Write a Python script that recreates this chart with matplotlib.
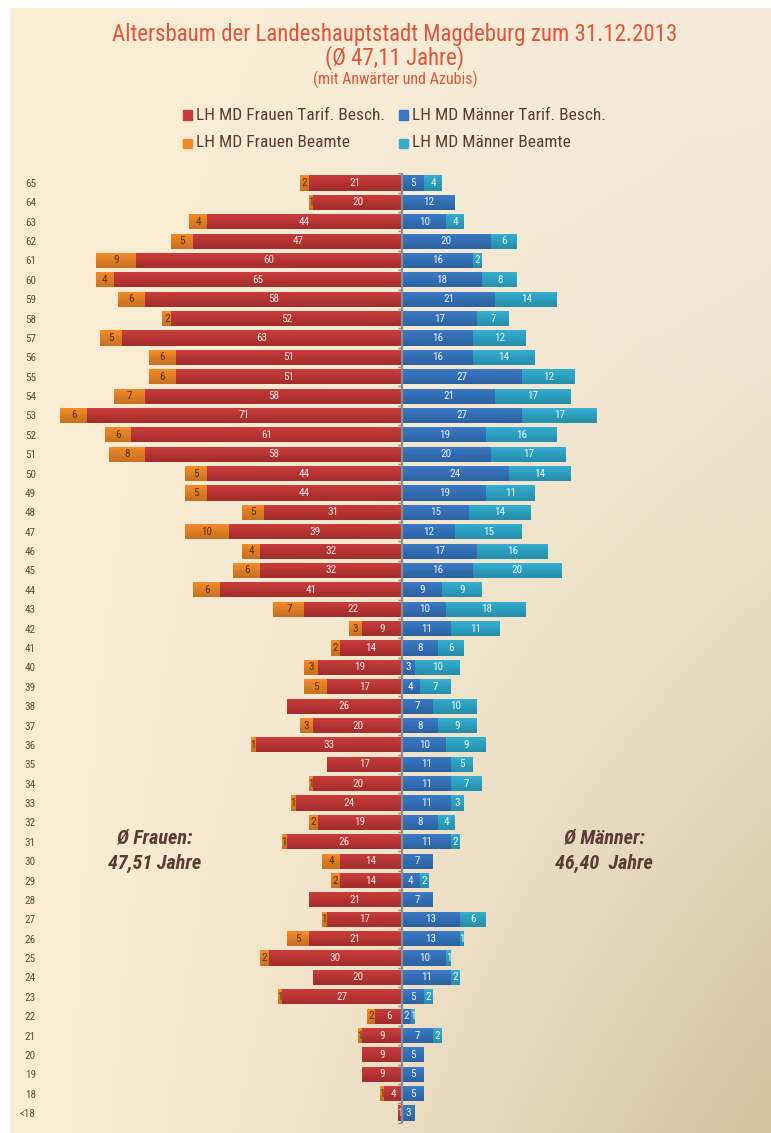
import numpy as np
import matplotlib.pyplot as plt
from matplotlib import font_manager
from matplotlib.patches import Rectangle

ages = ["65", "64", "63", "62", "61", "60", "59", "58", "57", "56", "55", "54",
        "53", "52", "51", "50", "49", "48", "47", "46", "45", "44", "43", "42",
        "41", "40", "39", "38", "37", "36", "35", "34", "33", "32", "31", "30",
        "29", "28", "27", "26", "25", "24", "23", "22", "21", "20", "19", "18", "<18"]
frauen_tarif = [21, 20, 44, 47, 60, 65, 58, 52, 63, 51, 51, 58,
                71, 61, 58, 44, 44, 31, 39, 32, 32, 41, 22, 9,
                14, 19, 17, 26, 20, 33, 17, 20, 24, 19, 26, 14,
                14, 21, 17, 21, 30, 20, 27, 6, 9, 9, 9, 4, 1]
frauen_beamte = [2, 1, 4, 5, 9, 4, 6, 2, 5, 6, 6, 7,
                 6, 6, 8, 5, 5, 5, 10, 4, 6, 6, 7, 3,
                 2, 3, 5, 0, 3, 1, 0, 1, 1, 2, 1, 4,
                 2, 0, 1, 5, 2, 0, 1, 2, 1, 0, 0, 1, 0]
maenner_tarif = [5, 12, 10, 20, 16, 18, 21, 17, 16, 16, 27, 21,
                 27, 19, 20, 24, 19, 15, 12, 17, 16, 9, 10, 11,
                 8, 3, 4, 7, 8, 10, 11, 11, 11, 8, 11, 7,
                 4, 7, 13, 13, 10, 11, 5, 2, 7, 5, 5, 5, 3]
maenner_beamte = [4, 0, 4, 6, 2, 8, 14, 7, 12, 14, 12, 17,
                  17, 16, 17, 14, 11, 14, 15, 16, 20, 9, 18, 11,
                  6, 10, 7, 10, 9, 9, 5, 7, 3, 4, 2, 0,
                  2, 0, 6, 1, 1, 2, 2, 1, 2, 0, 0, 0, 0]
series_names = ["LH MD Frauen Tarif. Besch.", "LH MD Frauen Beamte",
                "LH MD Männer Tarif. Besch.", "LH MD Männer Beamte"]

# pick a narrow font if one is installed
installed = {f.name for f in font_manager.fontManager.ttflist}
narrow = next((n for n in ["Ubuntu Condensed", "Liberation Sans Narrow", "DejaVu Sans Condensed",
                           "Roboto Condensed", "Open Sans Condensed", "Noto Sans"]
               if n in installed), "DejaVu Sans")
plt.rcParams["font.family"] = [narrow, "DejaVu Sans"]

RED, ORANGE, BLUE, CYAN = "#C73B3B", "#F08A28", "#3A78C4", "#33ACCE"
BROWN = "#5B3B33"
W, H = 771, 1133

fig = plt.figure(figsize=(W / 100, H / 100), dpi=100)

# background gradient (cream -> tan towards bottom right)
bg = fig.add_axes([10 / W, 0, 1 - 10 / W, 1 - 8 / H])
u = np.linspace(0, 1, 300)[None, :]
v = np.linspace(0, 1, 440)[:, None]
tl = np.array([251, 237, 211]) / 255
tr = np.array([243, 234, 216]) / 255
br = np.array([212, 194, 157]) / 255
base = tl * (1 - u[..., None]) + tr * u[..., None]
k = ((u * v) ** 1.6)[..., None]
img = base * (1 - k) + br * k
bg.imshow(np.clip(img, 0, 1), aspect="auto", extent=[0, 1, 0, 1], origin="upper")
bg.axis("off")

ax = fig.add_axes([47 / W, 1 - 1122.7 / H, 710 / W, (1122.7 - 173.3) / H])
ax.patch.set_alpha(0)
y = np.arange(len(ages))
ft = np.array(frauen_tarif)
fb = np.array(frauen_beamte)
mt = np.array(maenner_tarif)
mb = np.array(maenner_beamte)

hgt = 0.78
ax.barh(y, -ft, height=hgt, color=RED, zorder=2)
ax.barh(y, -fb, left=-ft, height=hgt, color=ORANGE, zorder=2)
ax.barh(y, mt, height=hgt, color=BLUE, zorder=2)
ax.barh(y, mb, left=mt, height=hgt, color=CYAN, zorder=2)

# soft darkening towards the bottom of each bar
steps = 8
for s in range(1, steps):
    frac = 1 - s / steps
    hh = hgt * frac
    yc = y + hgt / 2 - hh / 2
    ax.barh(yc, -(ft + fb), height=hh, color="black", alpha=0.022, zorder=3, lw=0)
    ax.barh(yc, mt + mb, height=hh, color="black", alpha=0.022, zorder=3, lw=0)

for i in range(len(ages)):
    if ft[i]:
        ax.text(-ft[i] / 2, i, str(ft[i]), ha="center", va="center", fontsize=8,
                color="#F4E6E6", zorder=4)
    if fb[i]:
        ax.text(-ft[i] - fb[i] / 2, i, str(fb[i]), ha="center", va="center", fontsize=8,
                color="#5A3018", zorder=4)
    if mt[i]:
        ax.text(mt[i] / 2, i, str(mt[i]), ha="center", va="center", fontsize=8,
                color="#EAF0FA", zorder=4)
    if mb[i]:
        ax.text(mt[i] + mb[i] / 2, i, str(mb[i]), ha="center", va="center", fontsize=8,
                color="#EAF7FB", zorder=4)

ax.axvline(0, color="#8C8C8C", lw=1.6, zorder=5)
ax.plot(np.full(len(ages) + 1, -0.35), np.arange(len(ages) + 1) - 0.5, ls="none",
        marker="_", ms=3, color="#8C8C8C", zorder=5)

ax.set_xlim(-80, 80)
ax.set_ylim(len(ages) - 0.5, -0.5)
ax.set_xticks([])
ax.set_yticks(y)
ax.set_yticklabels(ages, fontsize=8, color="#6B4A3A")
ax.tick_params(axis="y", length=0, pad=8)
for s in ax.spines.values():
    s.set_visible(False)

# titles
cx = 395 / W
fig.text(cx, 1 - 35 / H, "Altersbaum der Landeshauptstadt Magdeburg zum 31.12.2013",
         ha="center", va="center", fontsize=16.5, color="#E2553C")
fig.text(cx, 1 - 58 / H, "(Ø 47,11 Jahre)", ha="center", va="center", fontsize=16.5, color="#E2553C")
fig.text(cx, 1 - 79 / H, "(mit Anwärter und Azubis)", ha="center", va="center",
         fontsize=11.5, color="#E2553C")

# legend
leg = [(183, 115, RED, series_names[0]), (183, 143, ORANGE, series_names[1]),
       (399, 115, BLUE, series_names[2]), (399, 143, CYAN, series_names[3])]
for lx, ly, c, name in leg:
    fig.patches.append(Rectangle((lx / W, 1 - (ly + 4.5) / H), 9 / W, 9 / H,
                                 transform=fig.transFigure, color=c))
    fig.text((lx + 13) / W, 1 - ly / H, name, ha="left", va="center", fontsize=12.5, color=BROWN)

# averages
fig.text(155 / W, 1 - 851 / H, "Ø Frauen:\n47,51 Jahre", ha="center", va="center",
         fontsize=14.5, style="italic", weight="semibold", color=BROWN, linespacing=1.4)
fig.text(604 / W, 1 - 851 / H, "Ø Männer:\n46,40  Jahre", ha="center", va="center",
         fontsize=14.5, style="italic", weight="semibold", color=BROWN, linespacing=1.4)

fig.savefig("out.png", dpi=100)
